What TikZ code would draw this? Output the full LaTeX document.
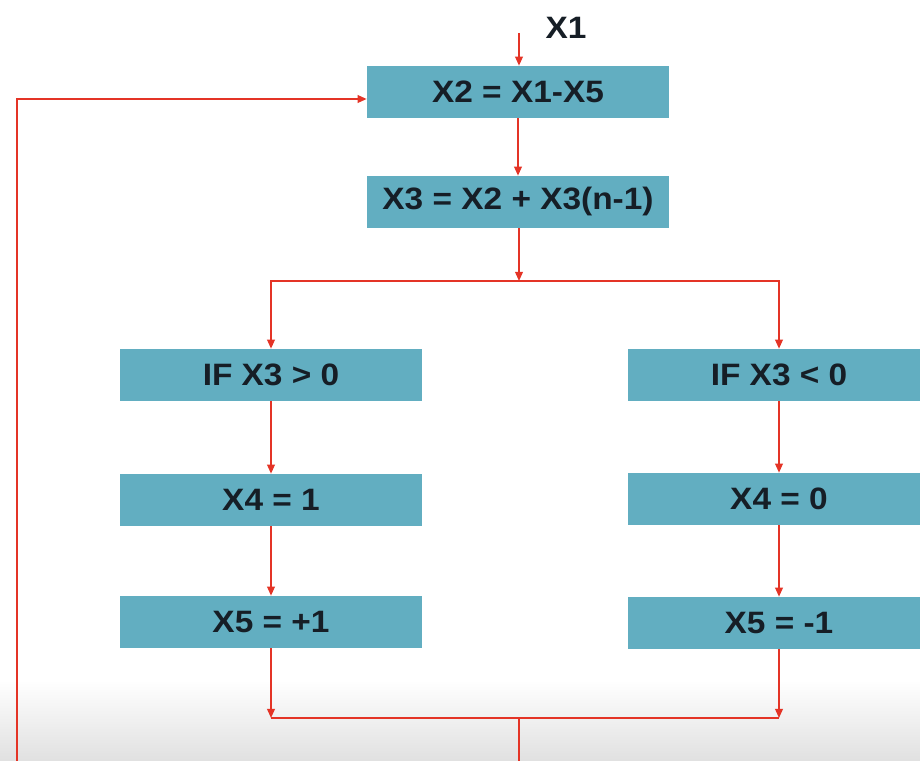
\documentclass[tikz,border=0pt]{standalone}
\usepackage{fontspec}
\setmainfont{Liberation Sans}
\newfontfamily\boxfont[FakeStretch=1.08]{Liberation Sans}
\usetikzlibrary{arrows.meta,positioning,calc}
\definecolor{boxteal}{RGB}{98,174,193}
\definecolor{flowred}{RGB}{228,52,38}
\definecolor{txtdark}{RGB}{22,30,38}

\begin{document}
\begin{tikzpicture}[x=0.025cm,y=-0.025cm,
    box/.style={fill=boxteal,minimum width=7.55cm,minimum height=1.3cm,
      inner sep=0pt,text=txtdark,font=\boxfont\fontsize{22}{24}\selectfont\bfseries},
    flowline/.style={flowred,line width=1.2pt},
    flow/.style={flowline,-{Triangle[length=6.5pt,width=5.5pt]}}]
  \useasboundingbox (0,0) rectangle (920,761);
  \clip (0,0) rectangle (920,761);
  % faded bottom band
  \shade[top color=white,bottom color=black!12] (0,680) rectangle (920,761);
  % main column
  \node[txtdark,font=\boxfont\fontsize{22}{24}\selectfont\bfseries] (xin) at (566,28) {X1};
  \coordinate (in) at (519,33);
  \node[box] (sub) at (518,92) {X2 = X1-X5};
  \node[box] (sum) at (518,202) {X3 = X2 + X3(n-1)};
  \coordinate (split) at (519,281);
  % left branch
  \node[box] (ifpos) at (271,375) {IF X3 > 0};
  \node[box] (xfpos) at (271,500) {X4 = 1};
  \node[box] (xvpos) at (271,622) {X5 = +1};
  % right branch
  \node[box] (ifneg) at (779,375) {IF X3 < 0};
  \node[box] (xfneg) at (779,499) {X4 = 0};
  \node[box] (xvneg) at (779,623) {X5 = -1};
  \coordinate (join) at (519,718);
  \coordinate (back) at (17,99);
  % connectors
  \draw[flow] (in) -- (in |- sub.north);
  \draw[flow] (sub) -- (sum);
  \draw[flow] (sum.south -| split) -- (split);
  \draw[flow] (split) -| (ifpos.north);
  \draw[flow] (split) -| (ifneg.north);
  \draw[flow] (ifpos) -- (xfpos);
  \draw[flow] (xfpos) -- (xvpos);
  \draw[flow] (ifneg) -- (xfneg);
  \draw[flow] (xfneg) -- (xvneg);
  \draw[flow] (xvpos.south) -- (xvpos.south |- join);
  \draw[flow] (xvneg.south) -- (xvneg.south |- join);
  \draw[flowline] (xvpos.south |- join) -- (xvneg.south |- join);
  % feedback loop
  \draw[flow] (join) -- ++(0,80) -| (back) -- (back -| sub.west);
\end{tikzpicture}
\end{document}
